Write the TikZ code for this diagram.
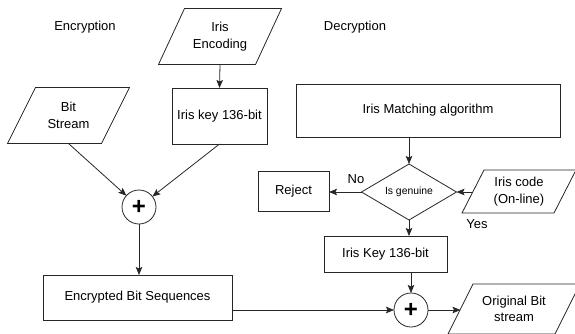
\documentclass[tikz,border=0pt]{standalone}
\usepackage{fontspec}
\setmainfont{Liberation Sans}
\usetikzlibrary{arrows.meta,shapes.geometric}
\newcommand\drawpara[2]{\draw[ln] ([xshift=#2]#1.north west) -- ([xshift=#2]#1.north east) -- ([xshift=-#2]#1.south east) -- ([xshift=-#2]#1.south west) -- cycle;}
\begin{document}
\begin{tikzpicture}[x=1pt,y=-1pt,
  every node/.style={font=\fontsize{13}{16.5}\selectfont, inner sep=0pt, outer sep=0pt},
  ln/.style={draw=black!85, line width=0.8pt},
  arr/.style={ln, -{Stealth[length=8pt,width=6.5pt,inset=1.5pt]}},
  box/.style={ln, rectangle, align=center},
  para/.style={rectangle, align=center},
  circ/.style={ln, circle, minimum size=34pt, font=\fontsize{24}{24}\selectfont\bfseries},
  dia/.style={ln, diamond, aspect=1.7, minimum width=95pt, minimum height=56pt, font=\fontsize{10.4}{12}\selectfont}
]
\useasboundingbox (0,0) rectangle (575,333);

% titles
\node (tenc) at (85,27) {Encryption};
\node (tdec) at (355,27) {Decryption};

% encryption side
\node[para, minimum width=97pt, minimum height=56pt] (ienc) at (220,36.5) {Iris\\Encoding};
\drawpara{ienc}{13pt}
\node[box, minimum width=95pt, minimum height=56pt] (ikey) at (219.5,116) {Iris key 136-bit};
\node[para, minimum width=94pt, minimum height=56pt] (bs) at (68.5,115.5) {Bit\\Stream};
\drawpara{bs}{14pt}
\node[circ] (p1) at (139,207) {+};
\node[box, minimum width=189pt, minimum height=45pt] (ebs) at (137.5,297.5) {Encrypted Bit Sequences};

% decryption side
\node[box, minimum width=264pt, minimum height=53pt] (ima) at (428,110.5) {Iris Matching algorithm};
\node[dia] (gen) at (409,192) {Is genuine};
\node[box, minimum width=71pt, minimum height=40pt] (rej) at (293.5,191) {Reject};
\node[para, minimum width=92pt, minimum height=43pt] (icode) at (519,191.5) {Iris code\\(On-line)};
\drawpara{icode}{11pt}
\node[box, minimum width=123pt, minimum height=36pt] (ikey2) at (385.5,254) {Iris Key 136-bit};
\node[circ] (p2) at (411,310) {+};
\node[para, minimum width=107pt, minimum height=50pt] (obs) at (514,309) {Original Bit\\stream};
\drawpara{obs}{12.5pt}

% labels
\node (lno) at (356,179) {No};
\node (lyes) at (477,224) {Yes};

% connectors
\draw[arr] (ienc.south) -- (ikey.north);
\draw[arr] (bs.south) -- (p1);
\draw[arr] (ikey.south) -- (p1);
\draw[arr] (p1.south) -- (p1.south |- ebs.north);
\draw[arr] (ebs.east |- p2.west) -- (p2.west);
\draw[arr] (gen.north |- ima.south) -- (gen.north);
\draw[arr] (gen.west) -- (gen.west -| rej.east);
\draw[arr] (icode.west |- gen.east) -- (gen.east);
\draw[arr] (gen.south) -- (gen.south |- ikey2.north);
\draw[arr] (p2.north |- ikey2.south) -- (p2.north);
\draw[arr] (p2.east) -- (p2.east -| obs.west);
\end{tikzpicture}
\end{document}
